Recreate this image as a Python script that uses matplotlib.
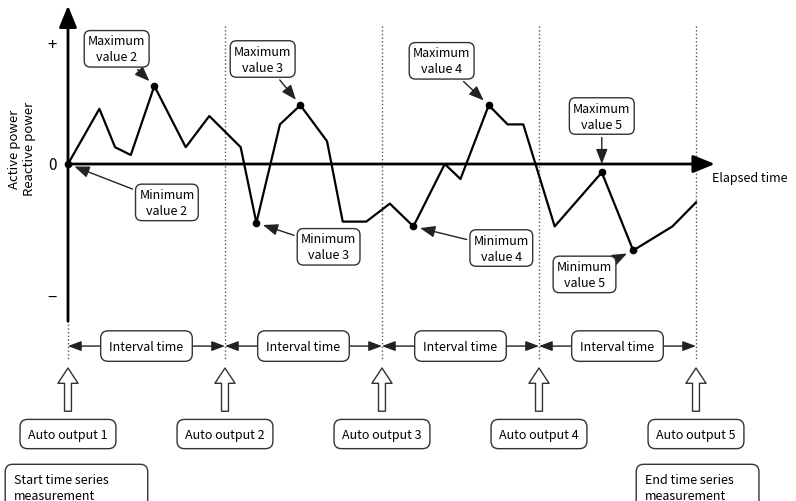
#!/usr/bin/env python3

import matplotlib.pyplot as plt

plt.rcParams['font.family'] = ['Noto Sans CJK JP', 'DejaVu Sans']

# elapsed time (one interval = 10 units) and power (+ mark = 1.0)
times = [0, 2, 3, 4, 5.5, 7.5, 9, 11, 12, 13.5, 14.8, 16.5, 17.5, 19, 20.5,
         22, 24, 25, 26.8, 28, 29, 31, 34, 36, 38.5, 40]
power = [0, 0.46, 0.14, 0.075, 0.65, 0.14, 0.40, 0.14, -0.49, 0.33, 0.49,
         0.19, -0.48, -0.48, -0.33, -0.52, 0.0, -0.125, 0.49, 0.33, 0.33,
         -0.52, -0.07, -0.72, -0.52, -0.32]

outputs = [0, 10, 20, 30, 40]
output_labels = ['Auto output 1', 'Auto output 2', 'Auto output 3',
                 'Auto output 4', 'Auto output 5']

# marked extremes: (label, time, value, box x, box y)
extremes = [
    ('Maximum\nvalue 2', 5.5, 0.65, 3.1, 0.96),
    ('Minimum\nvalue 2', 0, 0, 6.3, -0.32),
    ('Maximum\nvalue 3', 14.8, 0.49, 12.4, 0.875),
    ('Minimum\nvalue 3', 12, -0.49, 16.6, -0.69),
    ('Maximum\nvalue 4', 26.8, 0.49, 23.8, 0.86),
    ('Minimum\nvalue 4', 22, -0.52, 27.6, -0.70),
    ('Minimum\nvalue 5', 36, -0.72, 32.9, -0.92),
]

fig = plt.figure(figsize=(7.96, 5.02), dpi=100)
ax = fig.add_axes([0, 0, 1, 1])
ax.set_xlim(-4.33, 46.37)
ax.set_ylim(-2.808, 1.375)
ax.axis('off')

box = dict(boxstyle='round,pad=0.3,rounding_size=0.5', fc='white',
           ec='#333333', lw=1)

# dotted dividers at each auto output
for t in outputs:
    ax.plot([t, t], [1.15, -1.64], color='#555555', lw=1, ls=':', zorder=1)

# axes with arrows
ax.annotate('', xy=(0, 1.32), xytext=(0, -1.31),
            arrowprops=dict(arrowstyle='-|>,head_length=1.1,head_width=0.45',
                            color='black', lw=2, shrinkA=0, shrinkB=0,
                            mutation_scale=12))
ax.annotate('', xy=(41.2, 0), xytext=(0, 0),
            arrowprops=dict(arrowstyle='-|>,head_length=1.1,head_width=0.45',
                            color='black', lw=2, shrinkA=0, shrinkB=0,
                            mutation_scale=12))
ax.text(-1.0, 1.0, '+', fontsize=12, ha='center', va='center')
ax.text(-1.0, 0, '0', fontsize=11, ha='center', va='center')
ax.text(-1.0, -1.11, '\u2212', fontsize=12, ha='center', va='center')
ax.text(-2.95, 0.13, 'Active power\nReactive power', fontsize=9.5,
        rotation=90, ha='center', va='center', linespacing=1.2)
ax.text(41.0, -0.11, 'Elapsed time', fontsize=9, ha='left', va='center')

# measured values
ax.plot(times, power, color='black', lw=1.6, zorder=3)
dots = [0, 5.5, 12, 14.8, 22, 26.8, 34, 36]
ax.plot(dots, [power[times.index(t)] for t in dots], 'o', color='black',
        ms=4.5, zorder=4)

arrow = dict(arrowstyle='-|>,head_length=0.9,head_width=0.35', color='#222222',
             lw=1, shrinkB=5, mutation_scale=10)
for label, t, v, bx, by in extremes:
    ax.annotate(label, xy=(t, v), xytext=(bx, by), fontsize=9, ha='center',
                va='center', bbox=box, arrowprops=arrow, linespacing=1.3,
                zorder=5)
ax.annotate('Maximum\nvalue 5', xy=(34, 0), xytext=(34, 0.40), fontsize=9,
            ha='center', va='center', bbox=box, linespacing=1.3, zorder=5,
            arrowprops=dict(arrow, shrinkB=0))

# interval arrows
for a, b in zip(outputs[:-1], outputs[1:]):
    ax.annotate('', xy=(b, -1.517), xytext=(a, -1.517),
                arrowprops=dict(arrowstyle='<|-|>,head_length=0.8,head_width=0.3',
                                color='#222222', lw=1, shrinkA=0, shrinkB=0,
                                mutation_scale=10))
    ax.text((a + b) / 2, -1.517, 'Interval time', fontsize=9, ha='center',
            va='center', bbox=dict(box, boxstyle='round,pad=0.7,rounding_size=0.6'),
            zorder=5)

# hollow arrows and auto output boxes
for t, lab in zip(outputs, output_labels):
    ax.annotate('', xy=(t, -1.70), xytext=(t, -2.06),
                arrowprops=dict(arrowstyle='simple,head_length=1.1,head_width=1.45,tail_width=0.5',
                                fc='white', ec='#333333', lw=1, shrinkA=0,
                                shrinkB=0, mutation_scale=10))
    ax.text(t, -2.25, lab, fontsize=9, ha='center', va='center',
            bbox=dict(box, boxstyle='round,pad=0.65,rounding_size=0.6'))

corner = dict(box, boxstyle='round,pad=0.7,rounding_size=0.6')
ax.text(-3.44, -2.575, 'Start time series           \nmeasurement', fontsize=9,
        ha='left', va='top', linespacing=1.25, bbox=corner)
ax.text(36.75, -2.575, 'End time series      \nmeasurement', fontsize=9,
        ha='left', va='top', linespacing=1.25, bbox=corner)

fig.savefig('out.png', dpi=100)
